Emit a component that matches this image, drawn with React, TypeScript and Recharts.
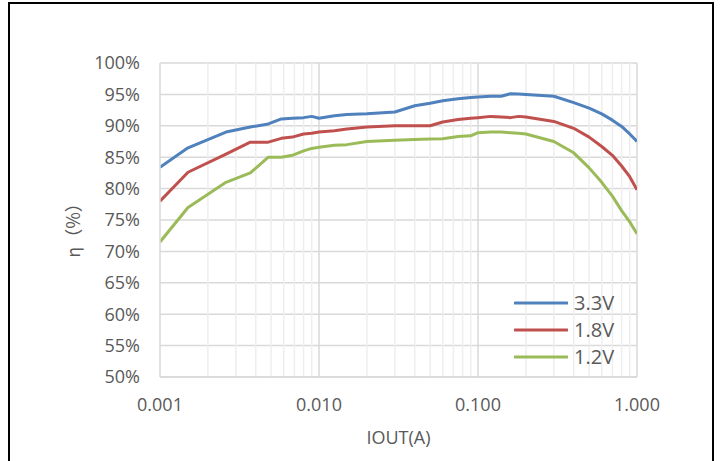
import React from "react";
import {
  LineChart,
  Line,
  XAxis,
  YAxis,
  CartesianGrid,
  ReferenceLine,
  Legend,
} from "recharts";

// output current (A), log-spaced samples
const IOUT_A = [
  0.001, 0.0015, 0.0026, 0.0037, 0.0048, 0.0058, 0.0068, 0.008, 0.009, 0.01,
  0.0125, 0.015, 0.02, 0.03, 0.04, 0.05, 0.06, 0.075, 0.09, 0.1, 0.12, 0.14,
  0.16, 0.18, 0.2, 0.3, 0.4, 0.5, 0.6, 0.7, 0.8, 0.9, 1.0,
];

// efficiency (%)
const EFF_3V3 = [
  83.4, 86.5, 89.0, 89.8, 90.3, 91.1, 91.2, 91.3, 91.5, 91.2, 91.6, 91.8,
  91.9, 92.2, 93.2, 93.6, 94.0, 94.3, 94.5, 94.6, 94.7, 94.7, 95.1, 95.05,
  95.0, 94.7, 93.7, 92.8, 91.9, 90.9, 89.9, 88.7, 87.5,
];
const EFF_1V8 = [
  78.0, 82.6, 85.5, 87.4, 87.4, 88.0, 88.2, 88.7, 88.8, 89.0, 89.2, 89.5,
  89.8, 90.0, 90.0, 90.0, 90.6, 91.0, 91.2, 91.3, 91.5, 91.4, 91.3, 91.5,
  91.4, 90.7, 89.6, 88.2, 86.7, 85.3, 83.6, 81.9, 79.8,
];
const EFF_1V2 = [
  71.5, 77.0, 81.0, 82.5, 85.0, 85.0, 85.3, 86.0, 86.4, 86.6, 86.9, 87.0,
  87.5, 87.7, 87.8, 87.9, 87.95, 88.3, 88.4, 88.9, 89.0, 89.0, 88.9, 88.8,
  88.7, 87.5, 85.7, 83.3, 81.0, 78.8, 76.5, 74.7, 72.8,
];

const SERIES = [
  { key: "v33", name: "3.3V", color: "#4f81bd" },
  { key: "v18", name: "1.8V", color: "#c0504d" },
  { key: "v12", name: "1.2V", color: "#9bbb59" },
];

const X_TICKS = [0.001, 0.01, 0.1, 1];
const Y_TICKS = [50, 55, 60, 65, 70, 75, 80, 85, 90, 95, 100];
const MINOR_STEPS = [2, 3, 4, 5, 6, 7, 8, 9];

const data = IOUT_A.map((iout, i) => ({
  iout,
  v33: EFF_3V3[i],
  v18: EFF_1V8[i],
  v12: EFF_1V2[i],
}));

const minorX = X_TICKS.slice(0, -1).flatMap((d) => MINOR_STEPS.map((m) => d * m));

const FONT = "'Open Sans', sans-serif";
const TEXT = "#595959";

// legend keeps the series order (recharts sorts it by name otherwise)
function LegendBox({ payload }: any) {
  const items = [...(payload || [])].sort(
    (a: any, b: any) =>
      SERIES.findIndex((s) => s.name === a.value) - SERIES.findIndex((s) => s.name === b.value)
  );
  return (
    <div style={{ fontFamily: FONT, fontSize: 20, color: TEXT }}>
      {items.map((p: any) => (
        <div key={p.value} style={{ display: "flex", alignItems: "center", height: 27 }}>
          <svg width={54} height={6} style={{ marginRight: 6 }}>
            <line x1={1} y1={3} x2={53} y2={3} stroke={p.color} strokeWidth={3} strokeLinecap="round" />
          </svg>
          <span>{p.value}</span>
        </div>
      ))}
    </div>
  );
}

function YTitle({ viewBox }: any) {
  const cx = viewBox.x + 72;
  const cy = viewBox.y + viewBox.height / 2 + 6;
  return (
    <text
      x={cx}
      y={cy}
      transform={`rotate(-90 ${cx} ${cy})`}
      textAnchor="middle"
      dominantBaseline="central"
      fill={TEXT}
      fontSize={18}
      fontFamily="'Noto Sans CJK SC', sans-serif"
    >
      η（%）
    </text>
  );
}

export default function App() {
  return (
    <div
      style={{
        position: "fixed",
        left: 0,
        top: 0,
        width: 720,
        height: 461,
        background: "#fff",
        overflow: "hidden",
      }}
    >
      <div
        style={{
          position: "absolute",
          left: 8,
          top: 2,
          width: 702,
          height: 480,
          border: "2px solid #000",
        }}
      />
      <div style={{ position: "absolute", left: 0, top: 0 }}>
        <LineChart
          width={720}
          height={461}
          data={data}
          margin={{ top: 63, right: 83, bottom: 0, left: 0 }}
        >
          <CartesianGrid vertical={false} stroke="#d9d9d9" strokeWidth={1.5} />
          {minorX.map((v) => (
            <ReferenceLine key={v} x={v} stroke="#eeeeee" strokeWidth={1.5} />
          ))}
          {X_TICKS.slice(1).map((v) => (
            <ReferenceLine key={v} x={v} stroke="#d9d9d9" strokeWidth={1.5} />
          ))}
          <XAxis
            dataKey="iout"
            type="number"
            scale="log"
            domain={[0.001, 1]}
            ticks={X_TICKS}
            allowDataOverflow
            height={84}
            tickLine={false}
            tickSize={0}
            tickMargin={21}
            axisLine={{ stroke: "#d9d9d9", strokeWidth: 1.5 }}
            tick={{ fill: TEXT, fontSize: 18, fontFamily: FONT }}
            tickFormatter={(v) => Number(v).toFixed(3)}
            label={{
              value: "IOUT(A)",
              position: "insideBottom",
              offset: 17,
              fill: TEXT,
              fontSize: 18,
              fontFamily: FONT,
            }}
          />
          <YAxis
            type="number"
            domain={[50, 100]}
            ticks={Y_TICKS}
            width={160}
            tickLine={false}
            tickSize={0}
            tickMargin={20}
            axisLine={{ stroke: "#d9d9d9", strokeWidth: 1.5 }}
            tick={{ fill: TEXT, fontSize: 18, fontFamily: FONT }}
            tickFormatter={(v) => `${v}%`}
            label={{ content: YTitle }}
          />
          <Legend
            layout="vertical"
            align="center"
            verticalAlign="middle"
            content={LegendBox}
            wrapperStyle={{ left: 514, top: 289, width: 110 }}
          />
          {SERIES.map((s) => (
            <Line
              key={s.key}
              type="linear"
              dataKey={s.key}
              name={s.name}
              stroke={s.color}
              strokeWidth={3}
              strokeLinejoin="round"
              dot={false}
              isAnimationActive={false}
            />
          ))}
        </LineChart>
      </div>
    </div>
  );
}
